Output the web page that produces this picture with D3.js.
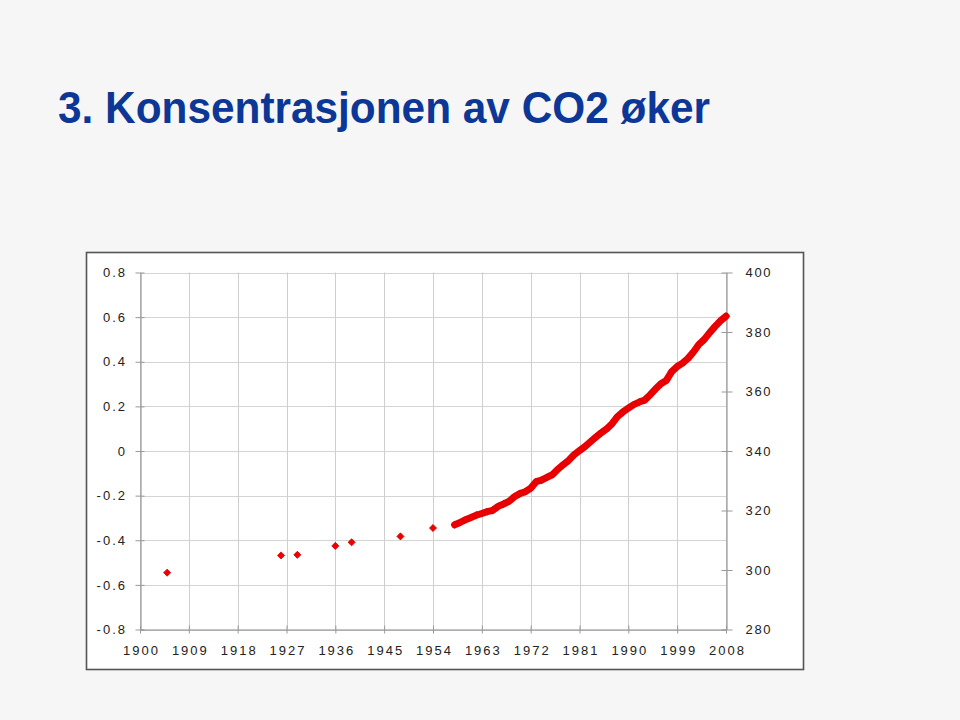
<!DOCTYPE html>
<html><head><meta charset="utf-8">
<script src="https://cdn.jsdelivr.net/npm/d3@7"></script>
<style>body{margin:0;background:#f6f6f6}svg{display:block}</style>
</head><body>
<svg id="c" width="960" height="720"></svg>
<script>
const titleText = "3. Konsentrasjonen av CO2 øker";
const xTickYears = [1900,1909,1918,1927,1936,1945,1954,1963,1972,1981,1990,1999,2008];
const leftTicks = [0.8,0.6,0.4,0.2,0,-0.2,-0.4,-0.6,-0.8];
const rightTicks = [400,380,360,340,320,300,280];
const coreYears = [1905,1926,1929,1936,1939,1948,1954];
const corePpm = [299.1,304.9,305.1,308.1,309.3,311.3,314.1];
const mloYears = [1958,1959,1960,1961,1962,1963,1964,1965,1966,1967,1968,1969,1970,1971,1972,1973,1974,1975,1976,1977,1978,1979,1980,1981,1982,1983,1984,1985,1986,1987,1988,1989,1990,1991,1992,1993,1994,1995,1996,1997,1998,1999,2000,2001,2002,2003,2004,2005,2006,2007,2008];
const mloPpm = [315.2,315.97,316.91,317.64,318.45,318.99,319.62,320.04,321.37,322.18,323.05,324.62,325.68,326.32,327.45,329.68,330.18,331.11,332.04,333.83,335.40,336.84,338.75,340.11,341.45,343.05,344.65,346.12,347.42,349.19,351.57,353.12,354.39,355.61,356.45,357.10,358.83,360.82,362.61,363.73,366.70,368.38,369.55,371.14,373.28,375.80,377.52,379.80,381.90,383.79,385.30];

const svg = d3.select("#c");
const red = "#ee0000";
const font = "Liberation Sans, Arial, sans-serif";

// title
svg.append("text").attr("x", 58).attr("y", 123)
  .attr("font-family", font)
  .attr("font-weight", "bold").attr("font-size", 44)
  .attr("fill", "#0d3796")
  .attr("textLength", 652).attr("lengthAdjust", "spacingAndGlyphs")
  .text(titleText);

// chart box
svg.append("rect").attr("x", 86.5).attr("y", 252.5).attr("width", 717).attr("height", 417)
  .attr("fill", "#fff").attr("stroke", "#555").attr("stroke-width", 1.6);

const L = 140, R = 726, T = 272.5, B = 629.5;
const x = d3.scaleLinear().domain([1900, 2008]).range([L, R]);
const yL = d3.scaleLinear().domain([-0.8, 0.8]).range([B, T]);
const yR = d3.scaleLinear().domain([280, 400]).range([B, T]);

const g = svg.append("g");
g.selectAll("line.hg").data(leftTicks).join("line")
  .attr("x1", L).attr("x2", R)
  .attr("y1", d => Math.round(yL(d)) + 0.5).attr("y2", d => Math.round(yL(d)) + 0.5)
  .attr("stroke", "#d4d4d4").attr("stroke-width", 1);
g.selectAll("line.vg").data(xTickYears).join("line")
  .attr("x1", d => Math.round(x(d)) + 0.5).attr("x2", d => Math.round(x(d)) + 0.5)
  .attr("y1", T).attr("y2", B)
  .attr("stroke", "#cfcfcf").attr("stroke-width", 1);

// left axis
const fmtL = d => d === 0 ? "0" : d3.format(".1f")(d).replace("\u2212", "-");
const leftAxis = d3.axisLeft(yL).tickValues(leftTicks).tickSizeInner(5).tickSizeOuter(0)
  .tickFormat(fmtL).tickPadding(8.5);
const ga = svg.append("g").attr("transform", `translate(${L + 0.5},0)`).call(leftAxis);
ga.select(".domain").attr("stroke", "#888");
ga.selectAll(".tick line").attr("stroke", "#999").attr("x2", -5).attr("x1", 4);
ga.selectAll("text").attr("font-family", font).attr("font-size", 13).attr("fill", "#222")
  .attr("letter-spacing", "2px");

// right axis
const rightAxis = d3.axisRight(yR).tickValues(rightTicks).tickSizeInner(5).tickSizeOuter(0).tickPadding(14);
const gr = svg.append("g").attr("transform", `translate(${R + 0.5},0)`).call(rightAxis);
gr.select(".domain").attr("stroke", "#888");
gr.selectAll(".tick line").attr("stroke", "#999").attr("x1", -5).attr("x2", 6);
gr.selectAll("text").attr("font-family", font).attr("font-size", 13).attr("fill", "#222")
  .attr("letter-spacing", "1.7px");

// bottom axis
const bottomAxis = d3.axisBottom(x).tickValues(xTickYears).tickSizeInner(4).tickSizeOuter(0)
  .tickFormat(d3.format("d")).tickPadding(12);
const gb = svg.append("g").attr("transform", `translate(0,${B})`).call(bottomAxis);
gb.select(".domain").attr("stroke", "#888");
gb.selectAll(".tick line").attr("stroke", "#999").attr("y1", -4);
gb.selectAll("text").attr("font-family", font).attr("font-size", 13).attr("fill", "#222")
  .attr("letter-spacing", "2px").attr("dx", "1px");

// data
const mlo = mloYears.map((yr, i) => ({yr, v: mloPpm[i]}));
const core = coreYears.map((yr, i) => ({yr, v: corePpm[i]}));

svg.append("path").datum(mlo)
  .attr("d", d3.line().x(d => x(d.yr)).y(d => yR(d.v)))
  .attr("fill", "none").attr("stroke", red).attr("stroke-width", 7)
  .attr("stroke-linejoin", "round").attr("stroke-linecap", "round");

const diamond = d3.symbol().type(d3.symbolSquare).size(25);
svg.append("g").selectAll("path").data(core.concat(mlo)).join("path")
  .attr("d", diamond)
  .attr("transform", d => `translate(${x(d.yr)},${yR(d.v)}) rotate(45)`)
  .attr("fill", red).attr("stroke", "#d80000").attr("stroke-width", 0.8);
</script>
</body></html>
